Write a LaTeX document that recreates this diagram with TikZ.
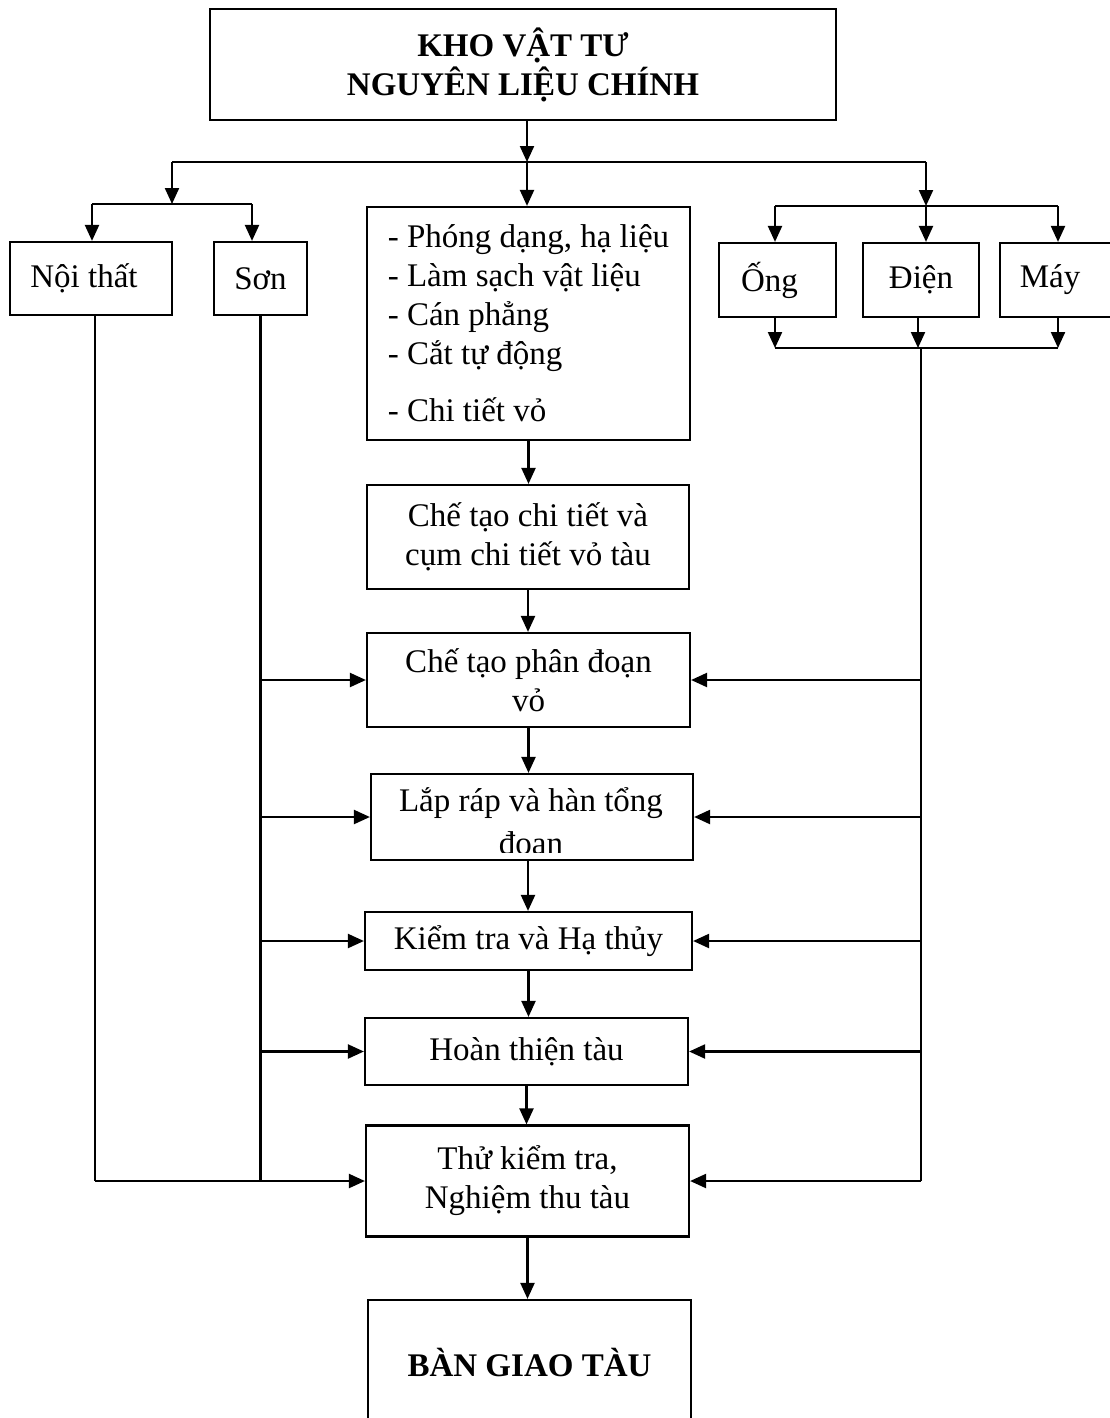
\documentclass[tikz,border=0pt]{standalone}
\usepackage{fontspec}
\setmainfont{Liberation Serif}
\usetikzlibrary{arrows.meta}
\begin{document}
\begin{tikzpicture}[x=1pt,y=-1pt,
  box/.style={draw, line width=2.2pt, inner sep=0pt, font=\fontsize{33}{39}\selectfont},
  txt/.style={inner sep=0pt, align=center, font=\fontsize{33}{43}\selectfont},
  line/.style={line width=2.2pt},
  arr/.style={line width=2.2pt, -{Triangle[length=16pt,width=14pt]}}]
\clip (0,0) rectangle (1110,1418);
\fill[white] (0,0) rectangle (1110,1418);

% boxes
\node[box, align=center, minimum width=626pt, minimum height=111pt] (kho) at (523,64.5) {\bfseries KHO VẬT TƯ\\\bfseries NGUYÊN LIỆU CHÍNH};
\node[box, align=left, minimum width=323pt, minimum height=233pt] (list) at (528.5,323.5)
  {- Phóng dạng, hạ liệu\\- Làm sạch vật liệu\\- Cán phẳng\\- Cắt tự động\\[18pt]- Chi tiết vỏ};
\node[box, align=center, minimum width=322pt, minimum height=104pt] (b2) at (528,537) {Chế tạo chi tiết và\\cụm chi tiết vỏ tàu};
\node[box, align=center, minimum width=323pt, minimum height=94pt] (b3) at (528.5,680) {Chế tạo phân đoạn\\vỏ};
\node[box, minimum width=322pt, minimum height=86pt] (b4) at (532,817) {};
\begin{scope}
  \clip (371,774) rectangle (693,852);
  \node[txt] (b4t) at (531,824) {Lắp ráp và hàn tổng\\đoạn};
\end{scope}
\node[box, minimum width=327pt, minimum height=58pt] (b5) at (528.5,941) {Kiểm tra và Hạ thủy};
\node[box, minimum width=323pt, minimum height=67pt] (b6) at (526.5,1051.5) {Hoàn thiện tàu};
\node[box, align=center, minimum width=323pt, minimum height=111pt] (b7) at (527.5,1181) {Thử kiểm tra,\\Nghiệm thu tàu};
\node[box, minimum width=323pt, minimum height=124pt] (b8) at (529.5,1362) {\bfseries BÀN GIAO TÀU};

\node[box, minimum width=162pt, minimum height=73pt] (noi) at (91,278.5) {\hspace*{-14pt}Nội thất};
\node[box, minimum width=93pt, minimum height=73pt] (son) at (260.5,278.5) {Sơn};
\node[box, minimum width=117pt, minimum height=74pt] (ong) at (777.5,280) {\hspace*{-16pt}Ống};
\node[box, minimum width=116pt, minimum height=74pt] (dien) at (921,280) {Điện};
\node[box, minimum width=112pt, minimum height=74pt] (may) at (1056,280) {\hspace*{-12pt}Máy};

% junction points
\coordinate (j0) at (527,162);
\coordinate (jL) at (172,162);
\coordinate (jR) at (926,162);
\coordinate (jL2) at (172,204);
\coordinate (jLa) at (92,204);
\coordinate (jLb) at (252,204);
\coordinate (jR2) at (926,206);
\coordinate (jRa) at (775,206);
\coordinate (jRb) at (1058,206);
\coordinate (cRa) at (775,348);
\coordinate (cRm) at (921,348);
\coordinate (cRb) at (1058,348);
\coordinate (lN) at (95,316);

% top distribution
\draw[arr] ([xshift=4pt]kho.south) -- (j0);
\draw[line] (jL) -- (jR);
\draw[arr] (j0) -- (list.north -| j0);
\draw[arr] (jL) -- (jL2);
\draw[line] (jLa) -- (jLb);
\draw[arr] (jLa) -- (jLa |- noi.north);
\draw[arr] (jLb) -- (jLb |- son.north);
\draw[arr] (jR) -- (jR2);
\draw[line] (jRa) -- (jRb);
\draw[arr] (jRa) -- (jRa |- ong.north);
\draw[arr] (jR2) -- (jR2 |- dien.north);
\draw[arr] (jRb) -- (jRb |- may.north);

% right collection
\draw[arr] (cRa |- ong.south) -- (cRa);
\draw[arr] ([xshift=-3pt]cRm |- dien.south) -- ([xshift=-3pt]cRm);
\draw[arr] (cRb |- may.south) -- (cRb);
\draw[line] (cRa) -- (cRb);
\draw[line] (cRm) -- (cRm |- b7.east);
\foreach \b in {b3,b4,b5,b6,b7} \draw[arr] (cRm |- \b.east) -- (\b.east);

% left feeders
\draw[line] (lN) -- (lN |- b7.west);
\draw[line] (son.south) -- (son.south |- b7.west);
\draw[arr] (lN |- b7.west) -- (b7.west);
\foreach \b in {b3,b4,b5,b6} \draw[arr] (son.south |- \b.west) -- (\b.west);

% central chain
\draw[arr] (list.south) -- (list.south |- b2.north);
\draw[arr] (b2.south) -- (b2.south |- b3.north);
\draw[arr] (b3.south) -- (b3.south |- b4.north);
\draw[arr] ([xshift=-4pt]b4.south) -- ([xshift=-4pt]b4.south |- b5.north);
\draw[arr] (b5.south) -- (b5.south |- b6.north);
\draw[arr] (b6.south) -- (b6.south |- b7.north);
\draw[arr] (b7.south) -- (b7.south |- b8.north);
\end{tikzpicture}
\end{document}
